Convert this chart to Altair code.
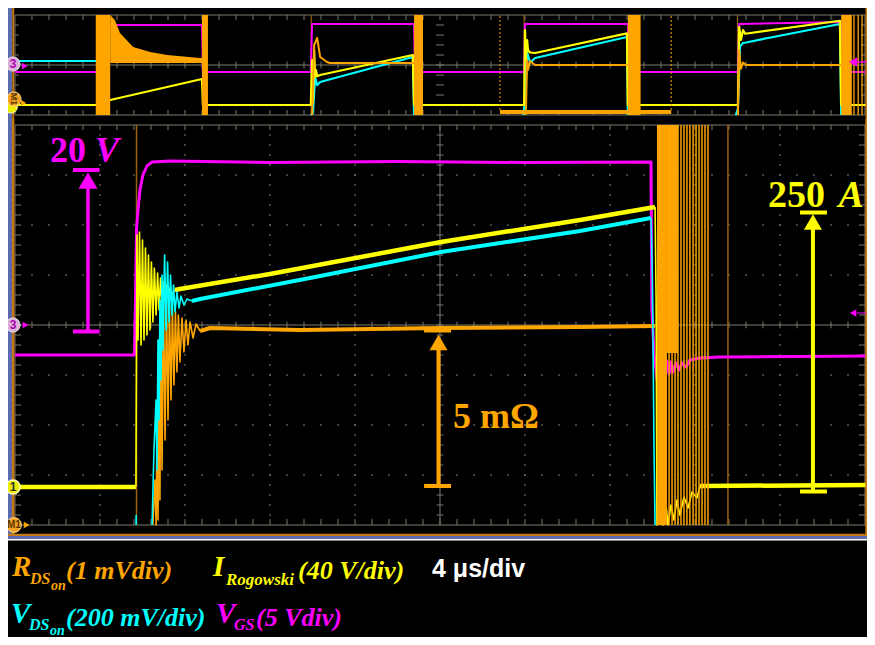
import altair as alt
import pandas as pd

# ------------------------------------------------------------------
# DATA  (main window: t in microseconds, 4 us/div; d in screen divisions)
# ------------------------------------------------------------------
vgs_main = [(0.0, -0.60), (5.62, -0.60), (5.67, 0.50), (5.72, 1.94), (5.79, 2.30), (5.88, 2.70),
            (6.02, 3.00), (6.21, 3.18), (6.45, 3.26), (7.30, 3.28), (12.0, 3.25), (18.0, 3.27),
            (24.0, 3.25), (29.93, 3.26), (29.97, 0.30), (30.02, -0.10), (30.07, -0.60),
            (30.12, -0.70), (30.21, -1.10), (30.31, -0.66), (30.40, -1.06), (30.49, -0.70),
            (30.59, -1.02), (30.68, -0.72), (30.78, -0.98), (30.87, -0.74), (30.96, -0.94),
            (31.11, -0.76), (31.25, -0.90), (31.39, -0.76), (31.58, -0.84), (31.76, -0.70),
            (32.24, -0.66), (33.18, -0.64), (40.1, -0.62)]

irog_pre = [(0.0, -3.24), (5.69, -3.24)]
irog_on_ring = [(5.69, -3.24), (5.74, 1.80), (5.79, -0.30), (5.86, 1.86), (5.93, -0.40), (6.00, 1.70),
                (6.07, -0.30), (6.14, 1.54), (6.21, -0.20), (6.28, 1.40), (6.35, -0.10), (6.42, 1.26),
                (6.49, 0.06), (6.56, 1.14), (6.64, 0.20), (6.71, 1.04), (6.78, 0.30), (6.85, 0.94),
                (6.92, 0.40), (6.99, 0.86), (7.06, 0.50), (7.13, 0.80), (7.20, 0.56), (7.29, 0.74),
                (7.39, 0.62), (7.53, 0.70)]
irog_ramp = [(7.53, 0.70), (7.76, 0.72), (12.0, 1.02), (20.05, 1.66), (26.59, 2.10), (30.12, 2.36)]
irog_off_ring = [(30.12, 2.36), (30.17, 0.50), (30.21, -4.0), (30.40, -3.50), (30.49, -4.0), (30.64, -3.60),
                 (30.73, -4.0), (30.87, -3.60), (31.01, -3.90), (31.15, -3.50), (31.29, -3.80),
                 (31.48, -3.44), (31.67, -3.66), (31.86, -3.34), (32.09, -3.46), (32.24, -3.22)]
irog_post = [(32.24, -3.22), (40.1, -3.20)]

vds_edge = [(5.70, -3.80), (5.70, -4.0)]
vds_on_ring = [(6.45, -4.0), (6.54, -2.5), (6.64, -1.5), (6.68, -2.9), (6.73, -0.3), (6.78, -1.9),
               (6.82, 0.5), (6.87, -1.1), (6.92, 1.0), (6.96, -0.5), (7.04, 1.4), (7.11, -0.1),
               (7.18, 1.26), (7.25, 0.06), (7.32, 1.0), (7.39, 0.2), (7.46, 0.8), (7.53, 0.26),
               (7.62, 0.66), (7.72, 0.34), (7.81, 0.58), (7.95, 0.40), (8.09, 0.52), (8.33, 0.48)]
vds_ramp = [(8.33, 0.48), (8.71, 0.52), (14.0, 0.95), (20.05, 1.46), (26.59, 1.88), (29.93, 2.14)]
vds_off = [(29.93, 2.14), (29.98, 1.30), (30.02, -0.10), (30.07, -2.44), (30.12, -4.0)]

rds_on_ring = [(6.49, -4.0), (6.59, -3.1), (6.64, -4.0), (6.68, -2.1), (6.73, -3.9), (6.78, -1.1),
               (6.82, -3.5), (6.87, 0.5), (6.92, -2.9), (6.99, 0.6), (7.06, -2.3), (7.13, 0.5),
               (7.20, -1.9), (7.27, 0.4), (7.34, -1.5), (7.41, 0.34), (7.48, -1.2), (7.55, 0.26),
               (7.62, -0.94), (7.69, 0.20), (7.76, -0.74), (7.86, 0.14), (7.95, -0.54), (8.05, 0.10),
               (8.14, -0.40), (8.24, 0.06), (8.38, -0.26), (8.52, 0.02), (8.71, -0.12)]
rds_flat = [(8.71, -0.12), (9.18, -0.06), (13.41, -0.10), (20.05, -0.06), (26.59, -0.04), (30.12, -0.02)]
rds_blocks = [(30.21, 30.68, -4.0, 4.0), (30.68, 31.20, -0.56, 4.0)]
rds_lines = [30.78, 30.92, 31.06, 31.20, 31.34, 31.48, 31.62, 31.76, 31.91, 32.05, 32.19, 32.33, 32.47, 32.61]
cursor_main = [5.72, 33.55]

# overview (T in microseconds, 20 us/div; D in overview divisions)
ov_vgs = [(0, -0.56), (19.3, -0.56), (19.5, 3.2), (44.0, 3.2), (44.2, -0.56), (69.6, -0.56), (69.9, 3.28),
          (93.9, 3.28), (94.1, -0.56), (119.8, -0.56), (120.0, 3.28), (144.2, 3.28), (144.5, -0.56),
          (170.1, -0.56), (170.4, 3.28), (194.4, 3.44), (194.6, -0.56), (200.5, -0.56)]
ov_irog = [(0, -3.2), (19.5, -3.2), (22.4, -2.8), (44.0, -1.12), (44.2, -3.2), (69.6, -3.2), (69.9, 0.4),
           (70.1, -3.0), (70.4, 1.2), (70.6, -0.96), (70.8, -0.4), (71.1, -0.9), (71.8, -0.8), (93.6, 0.8),
           (93.9, -3.2), (119.8, -3.2), (120.0, 2.8), (120.2, 0.4), (120.5, 2.0), (120.7, 1.2), (121.2, 1.0),
           (122.4, 0.96), (144.0, 2.53), (144.2, -3.2), (170.1, -3.2), (170.4, 3.04), (170.8, 2.0),
           (171.3, 2.8), (171.8, 2.5), (194.1, 3.54), (194.4, -3.2), (200.5, -3.2)]
ov_vds = [
    [(0, 0.32), (19.3, 0.32)],
    [(69.6, -4.0), (70.1, -3.84), (70.6, -0.96), (71.1, -1.6), (71.8, -1.36), (93.6, 0.64), (93.9, -4.0)],
    [(119.6, -4.0), (120.0, -3.0), (120.5, 1.0), (121.2, 0.2), (122.4, 0.56), (144.0, 2.24), (144.2, -4.0)],
    [(169.6, -4.0), (170.1, -3.5), (170.6, 1.5), (171.3, 1.76), (172.0, 1.8), (177.2, 2.16), (194.1, 3.28),
     (194.4, -4.0)],
]
ov_rds = [
    [(69.9, -4.0), (70.4, 1.6), (71.1, 2.16), (71.8, 0.64), (73.4, 0.24), (74.1, 0.16), (93.9, 0.16)],
    [(120.2, -4.0), (120.5, 0.4), (120.7, -0.4), (121.2, 0.3), (122.4, 0.0), (144.2, 0.0)],
    [(170.1, -4.0), (170.4, 1.2), (170.8, -0.3), (171.3, 0.2), (172.0, 0.0), (194.4, 0.0)],
]
ov_rds_band = [(22.4, 4.0, 0.16), (23.5, 3.6, 0.16), (24.7, 2.56, 0.16), (27.8, 1.44, 0.16), (31.8, 1.04, 0.16),
               (35.8, 0.8, 0.16), (43.5, 0.56, 0.16), (44.0, 0.56, 0.16)]
ov_blocks = [(19.0, 22.4), (44.0, 45.4), (93.9, 96.0), (144.2, 147.2), (194.4, 196.9)]
ov_lines = [197.4, 198.4, 199.3]
ov_cursors = [69.7, 119.8, 170.0]
ov_zoom = (114.1, 154.4)

# ------------------------------------------------------------------
# STYLE
# ------------------------------------------------------------------
MAG, YEL, CYA, ORG = "#ff00ff", "#ffff00", "#00ffff", "#ffa500"
BROWN, GRID, BLUE, FRAME = "#9a6012", "#7b786a", "#5b6bb0", "#c47a10"
SERIF = "Liberation Serif"
SANS = "Liberation Sans"

MX = alt.Scale(domain=[-0.329, 40.094], nice=False, zero=False)
MY = alt.Scale(domain=[-4.22, 4.12], nice=False, zero=False)
OX = alt.Scale(domain=[-1.647, 200.47], nice=False, zero=False)
OY = alt.Scale(domain=[-4.32, 4.56], nice=False, zero=False)
LX = alt.Scale(domain=[8, 867], nice=False, zero=False)
LY = alt.Scale(domain=[536, 637], nice=False, zero=False, reverse=True)


def pts_df(pieces):
    rows = []
    for k, pts in enumerate(pieces):
        for i, (x, y) in enumerate(pts):
            rows.append({"x": x, "y": y, "seg": k, "i": i})
    return pd.DataFrame(rows)


def lines(pieces, color, width, xs, ys):
    return alt.Chart(pts_df(pieces)).mark_line(color=color, strokeWidth=width, clip=True,
                                                strokeJoin="round").encode(
        x=alt.X("x:Q", scale=xs, axis=None), y=alt.Y("y:Q", scale=ys, axis=None),
        detail="seg:N", order="i:Q")


def rules(rows, color, width, xs, ys, dash=None):
    kw = dict(color=color, strokeWidth=width, clip=True)
    if dash:
        kw["strokeDash"] = dash
    df = pd.DataFrame(rows, columns=["x", "x2", "y", "y2"])
    return alt.Chart(df).mark_rule(**kw).encode(
        x=alt.X("x:Q", scale=xs, axis=None), x2="x2:Q",
        y=alt.Y("y:Q", scale=ys, axis=None), y2="y2:Q")


def rects(rows, color, xs, ys):
    df = pd.DataFrame(rows, columns=["x", "x2", "y", "y2"])
    return alt.Chart(df).mark_rect(color=color, clip=True).encode(
        x=alt.X("x:Q", scale=xs, axis=None), x2="x2:Q",
        y=alt.Y("y:Q", scale=ys, axis=None), y2="y2:Q")


def points(rows, shape, size, fill, xs, ys, stroke=None, sw=0):
    kw = dict(shape=shape, size=size, filled=True, fill=fill, opacity=1, clip=True)
    if stroke:
        kw["stroke"] = stroke
        kw["strokeWidth"] = sw
    df = pd.DataFrame(rows, columns=["x", "y"])
    return alt.Chart(df).mark_point(**kw).encode(
        x=alt.X("x:Q", scale=xs, axis=None), y=alt.Y("y:Q", scale=ys, axis=None))


def dots(rows, xs, ys):
    df = pd.DataFrame(rows, columns=["x", "y"])
    return alt.Chart(df).mark_square(size=2, color=GRID, opacity=1, clip=True).encode(
        x=alt.X("x:Q", scale=xs, axis=None), y=alt.Y("y:Q", scale=ys, axis=None))


def texts(rows, xs, ys, font, style="normal", weight="bold", align="left", baseline="alphabetic", angle=0):
    df = pd.DataFrame(rows, columns=["x", "y", "t", "c", "s"])
    return alt.Chart(df).mark_text(font=font, fontStyle=style, fontWeight=weight, align=align,
                                   baseline=baseline, angle=angle, clip=True).encode(
        x=alt.X("x:Q", scale=xs, axis=None), y=alt.Y("y:Q", scale=ys, axis=None),
        text="t:N", color=alt.Color("c:N", scale=None), size=alt.Size("s:Q", scale=None))


# ------------------------------------------------------------------
# OVERVIEW PANEL
# ------------------------------------------------------------------
ov_solid = [(0, 200, 4, 4), (0, 200, -4, -4), (0, 200, 0, 0), (0, 0, -4, 4), (200, 200, -4, 4)]
ov_ticks = []
for k in range(1, 50):
    T = 4 * k
    ov_ticks += [(T, T, 4, 3.6), (T, T, -4, -3.6), (T, T, -0.28, 0.28)]
for k in range(1, 10):
    D = -4 + 0.8 * k
    ov_ticks += [(0, 0.94, D, D), (199.06, 200, D, D), (99.06, 100.94, D, D)]

ov_layers = [
    rects([(-1.647, -0.706, -4.32, 4.56)], BLUE, OX, OY),
    rules(ov_solid, GRID, 1, OX, OY),
    rules(ov_ticks, GRID, 1, OX, OY),
    rules([(T, T, -4, 4) for T in ov_cursors], BROWN, 1.2, OX, OY),
    lines([ov_vgs], MAG, 2, OX, OY),
    lines(ov_vds, CYA, 2.2, OX, OY),
    lines([ov_irog], YEL, 2.2, OX, OY),
    alt.Chart(pd.DataFrame(ov_rds_band, columns=["x", "y", "y2"])).mark_area(color=ORG, opacity=1, clip=True).encode(
        x=alt.X("x:Q", scale=OX, axis=None), y=alt.Y("y:Q", scale=OY, axis=None), y2="y2:Q"),
    lines(ov_rds, ORG, 2, OX, OY),
    rects([(a, b, -4, 4) for a, b in ov_blocks], ORG, OX, OY),
    rules([(T, T, -4, 4) for T in ov_lines], ORG, 1.3, OX, OY),
    rules([(T, T, -3.6, 4) for T in ov_zoom], ORG, 1, OX, OY, dash=[2, 2]),
    rects([(ov_zoom[0], ov_zoom[1], -3.92, -3.6)], ORG, OX, OY),
    rules([(-0.42, -0.42, -4.32, 4.56), (200.35, 200.35, -4.32, 4.56)], FRAME, 2, OX, OY),
    points([(-0.9, -3.36)], "circle", 150, "#eeee00", OX, OY, stroke="#ffffc0", sw=1),
    points([(-0.24, -2.72)], "circle", 200, "#f2a21c", OX, OY, stroke="#ffd090", sw=1),
    texts([(-0.24, -2.72, "M1", "#5a3500", 9)], OX, OY, SANS, align="center",
          baseline="middle", angle=90),
    points([(2.0, -3.04)], "triangle-right", 40, ORG, OX, OY),
    points([(-0.47, 0.08)], "circle", 200, "#d8b0d8", OX, OY, stroke="#f0e0f0", sw=1),
    texts([(-0.47, 0.08, "3", "#b000b0", 12)], OX, OY, SANS, align="center", baseline="middle"),
    points([(2.3, -0.08)], "triangle-right", 45, MAG, OX, OY),
    points([(197.2, 0.24)], "triangle-left", 90, MAG, OX, OY),
    rules([(198.0, 200.35, 0.24, 0.24)], MAG, 1.5, OX, OY),
]
overview = alt.layer(*ov_layers).properties(width=859, height=111)

# ------------------------------------------------------------------
# MAIN PANEL
# ------------------------------------------------------------------
m_solid = [(0, 40, -4, -4), (0, 40, 4, 4), (0, 40, 0, 0), (0, 0, -4, 4), (40, 40, -4, 4), (20, 20, -4, 4)]
m_ticks = []
for k in range(1, 50):
    t = 0.8 * k
    m_ticks += [(t, t, -0.067, 0.067), (t, t, 4, 3.9), (t, t, -4, -3.88)]
for k in range(1, 40):
    d = -4 + 0.2 * k
    m_ticks += [(19.845, 20.155, d, d), (0, 0.28, d, d), (39.72, 40, d, d)]
m_dots = []
for t in [4, 8, 12, 16, 24, 28, 32, 36]:
    m_dots += [(t, -4 + 0.2 * k) for k in range(1, 40)]
for d in [-3, -2, -1, 1, 2, 3]:
    m_dots += [(0.8 * k, d) for k in range(1, 50)]

main_layers = [
    rects([(-0.329, -0.141, -4.22, 4.12)], BLUE, MX, MY),
    dots(m_dots, MX, MY),
    rules(m_solid, GRID, 1, MX, MY),
    rules(m_ticks, GRID, 1, MX, MY),
    rules([(t, t, -4, 4) for t in cursor_main], BROWN, 1.5, MX, MY),
    lines([vgs_main], MAG, 3, MX, MY),
    lines([irog_pre, irog_ramp, irog_post], YEL, 4.5, MX, MY),
    lines([irog_on_ring, irog_off_ring], YEL, 1.6, MX, MY),
    lines([rds_flat], ORG, 4, MX, MY),
    lines([rds_on_ring], ORG, 1.6, MX, MY),
    lines([vds_ramp], CYA, 4, MX, MY),
    lines([vds_edge, vds_on_ring, vds_off], CYA, 1.6, MX, MY),
    rects(rds_blocks, ORG, MX, MY),
    rules([(t, t, -4, 4) for t in rds_lines], ORG, 1.5, MX, MY),
    # frame
    rules([(-0.085, -0.085, -4.22, 4.12), (40.07, 40.07, -4.22, 4.12), (-0.329, 40.094, -4.2, -4.2)],
          FRAME, 2.5, MX, MY),
    # 20 V arrow (magenta)
    rules([(3.435, 3.435, -0.13, 2.8)], MAG, 3.5, MX, MY),
    rules([(2.73, 3.98, 3.1, 3.1), (2.73, 3.98, -0.13, -0.13)], MAG, 4, MX, MY),
    points([(3.435, 2.89)], "triangle-up", 361, MAG, MX, MY),
    texts([(1.647, 3.26, "20", MAG, 36)], MX, MY, SERIF),
    texts([(3.76, 3.26, "V", MAG, 36)], MX, MY, SERIF, style="italic"),
    # 250 A arrow (yellow)
    rules([(37.55, 37.55, -3.33, 2.0)], YEL, 4, MX, MY),
    rules([(36.94, 38.21, 2.25, 2.25), (36.94, 38.21, -3.33, -3.33)], YEL, 4, MX, MY),
    points([(37.55, 2.06)], "triangle-up", 324, YEL, MX, MY),
    texts([(35.44, 2.36, "250", YEL, 38)], MX, MY, SERIF),
    texts([(38.75, 2.36, "A", YEL, 38)], MX, MY, SERIF, style="italic"),
    # 5 mOhm arrow (orange)
    rules([(19.93, 19.93, -3.22, -0.4)], ORG, 4, MX, MY),
    rules([(19.25, 20.52, -0.11, -0.11), (19.25, 20.52, -3.22, -3.22)], ORG, 4, MX, MY),
    points([(19.93, -0.35)], "triangle-up", 324, ORG, MX, MY),
    texts([(20.61, -2.06, "5 mΩ", ORG, 36)], MX, MY, SERIF),
    # channel markers
    points([(-0.094, 0.0)], "circle", 200, "#d8b0d8", MX, MY, stroke="#f0e0f0", sw=1),
    texts([(-0.094, 0.0, "3", "#b000b0", 12)], MX, MY, SANS, align="center", baseline="middle"),
    points([(0.5, 0.0)], "triangle-right", 45, MAG, MX, MY),
    points([(-0.094, -3.24)], "circle", 200, "#eeee00", MX, MY, stroke="#ffffc0", sw=1.5),
    texts([(-0.094, -3.24, "1", "#303030", 12)], MX, MY, SANS, align="center", baseline="middle"),
    points([(-0.047, -4.0)], "circle", 220, "#f2a21c", MX, MY, stroke="#ffd090", sw=1),
    texts([(-0.047, -4.0, "M1", "#5a3500", 10)], MX, MY, SANS, align="center", baseline="middle"),
    points([(0.55, -4.0)], "triangle-right", 45, ORG, MX, MY),
    points([(39.44, 0.24)], "triangle-left", 55, MAG, MX, MY),
    rules([(39.6, 40.07, 0.24, 0.24)], MAG, 1, MX, MY),
]
main = alt.layer(*main_layers).properties(width=859, height=417)

# ------------------------------------------------------------------
# LEGEND PANEL
# ------------------------------------------------------------------
sym_rows = [(12, 576, "R", ORG, 29), (213, 576, "I", YEL, 29), (11, 623, "V", CYA, 29), (216, 623, "V", MAG, 29)]
sub_rows = [(30, 584, "DS", ORG, 16), (51, 590, "on", ORG, 14), (226, 585, "Rogowski", YEL, 17),
            (29, 630, "DS", CYA, 16), (50, 635, "on", CYA, 14), (234, 630, "GS", MAG, 16)]
par_rows = [(66, 579, "(1 mVdiv)", ORG, 26), (298, 579, "(40 V/div)", YEL, 26),
            (66, 626, "(200 mV/div)", CYA, 26), (256, 626, "(5 Vdiv)", MAG, 26)]
legend_layers = [
    rects([(8, 867, 536, 539)], BLUE, LX, LY),
    rules([(8, 867, 539.8, 539.8)], "#ffffff", 1.5, LX, LY),
    texts(sym_rows, LX, LY, SERIF, style="italic"),
    texts(sub_rows, LX, LY, SERIF, style="italic"),
    texts(par_rows, LX, LY, SERIF, style="italic"),
    texts([(432, 577, "4 μs/div", "#ffffff", 25)], LX, LY, SANS),
]
legend = alt.layer(*legend_layers).properties(width=859, height=101)

chart = (
    alt.vconcat(overview, main, legend, spacing=0)
    .resolve_scale(x="independent", y="independent")
    .properties(padding=0, background=BLUE)
    .configure_view(strokeWidth=0, fill="black")
)
chart.save("out.html", embed_options={"renderer": "svg", "actions": False})
